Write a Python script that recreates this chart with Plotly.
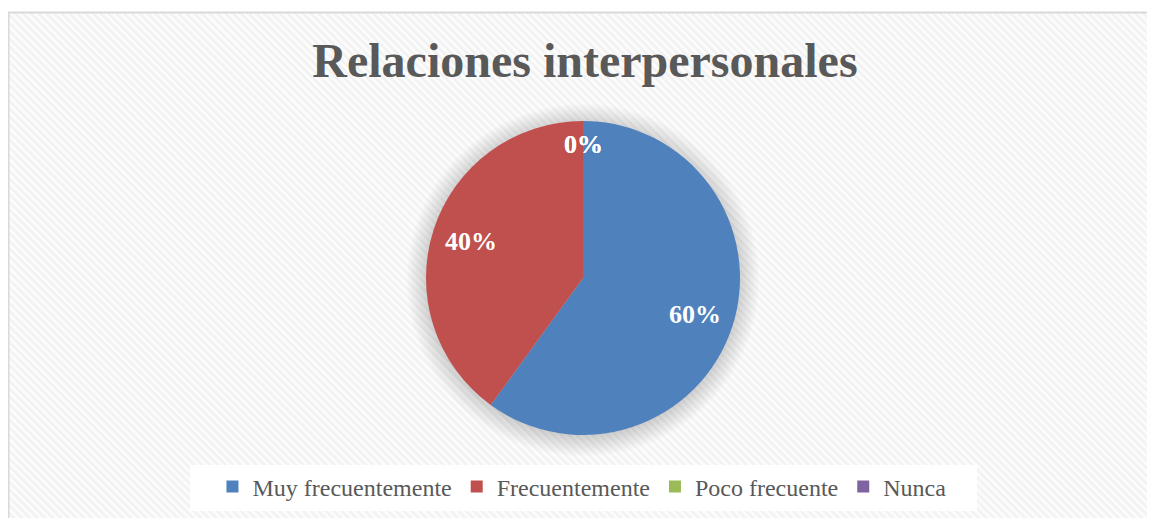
import base64
import math
import plotly.graph_objects as go

categories = ["Muy frecuentemente", "Frecuentemente", "Poco frecuente", "Nunca"]
values = [60, 40, 0, 0]
colors = ["#4F81BD", "#C0504D", "#9BBB59", "#8064A2"]
title_text = "Relaciones interpersonales"

# page body has an 8px margin, so the figure is slightly smaller than the window
W, H = 1147, 510
SERIF = "Liberation Serif, Times New Roman, serif"

cx, cy, r = 575, 270, 157  # pie centre / radius in figure pixels

svg = f"""<svg xmlns='http://www.w3.org/2000/svg' width='{W}' height='{H}'>
<defs>
<pattern id='p' width='5.5' height='5.5' patternUnits='userSpaceOnUse' patternTransform='rotate(-45)'>
<rect width='5.5' height='5.5' fill='#fcfcfc'/>
<rect width='2.5' height='5.5' fill='#f2f2f2'/>
</pattern>
<radialGradient id='g' cx='{cx}' cy='{cy + 2}' r='{r + 20}' gradientUnits='userSpaceOnUse'>
<stop offset='0.86' stop-color='#000' stop-opacity='0.2'/>
<stop offset='1' stop-color='#000' stop-opacity='0'/>
</radialGradient>
</defs>
<rect width='100%' height='100%' fill='#ffffff'/>
<rect x='1' y='5' width='{W}' height='{H}' fill='url(#p)'/>
<line x1='0' y1='4.5' x2='{W}' y2='4.5' stroke='#d9d9d9' stroke-width='2'/>
<line x1='0' y1='4' x2='0' y2='{H}' stroke='#d9d9d9' stroke-width='3'/>
<circle cx='{cx}' cy='{cy + 2}' r='{r + 20}' fill='url(#g)'/>
<rect x='182' y='457' width='787' height='46' fill='#ffffff'/>
</svg>"""
src = "data:image/svg+xml;base64," + base64.b64encode(svg.encode()).decode()

fig = go.Figure(go.Pie(
    labels=categories,
    values=values,
    marker=dict(colors=colors, line=dict(width=0)),
    sort=False,
    direction="clockwise",
    rotation=0,
    textinfo="none",
    hoverinfo="label+percent",
    domain=dict(x=[(cx - r) / W, (cx + r) / W], y=[(H - cy - r) / H, (H - cy + r) / H]),
))

# data labels placed at each slice's mid-angle
total = sum(values)
annotations = []
cum = 0.0
for v in values:
    frac = v / total
    theta = 2 * math.pi * (cum + frac / 2)
    cum += frac
    d = r * (0.85 if frac < 0.05 else 0.75)
    px = cx + d * math.sin(theta)
    py = cy - d * math.cos(theta)
    annotations.append(dict(
        text=f"<b>{frac:.0%}</b>", x=px / W, y=(H - py) / H, xref="paper", yref="paper",
        showarrow=False, xanchor="center", yanchor="middle",
        font=dict(family=SERIF, size=26, color="white"),
    ))

fig.update_layout(
    width=W, height=H,
    margin=dict(l=0, r=0, t=0, b=0),
    paper_bgcolor="white",
    title=dict(text=f"<b>{title_text}</b>", x=0.503, xanchor="center", y=1 - 52 / H, yanchor="middle",
               font=dict(family=SERIF, size=48, color="#595959")),
    showlegend=True,
    legend=dict(orientation="h", x=0.5004, xanchor="center", y=(H - 479) / H, yanchor="middle",
                bgcolor="rgba(0,0,0,0)", font=dict(family=SERIF, size=24, color="#595959"),
                itemwidth=30),
    annotations=annotations,
    images=[dict(source=src, xref="paper", yref="paper", x=0, y=1, sizex=1, sizey=1,
                 sizing="stretch", layer="below", xanchor="left", yanchor="top")],
)

fig.write_html("out.html")
